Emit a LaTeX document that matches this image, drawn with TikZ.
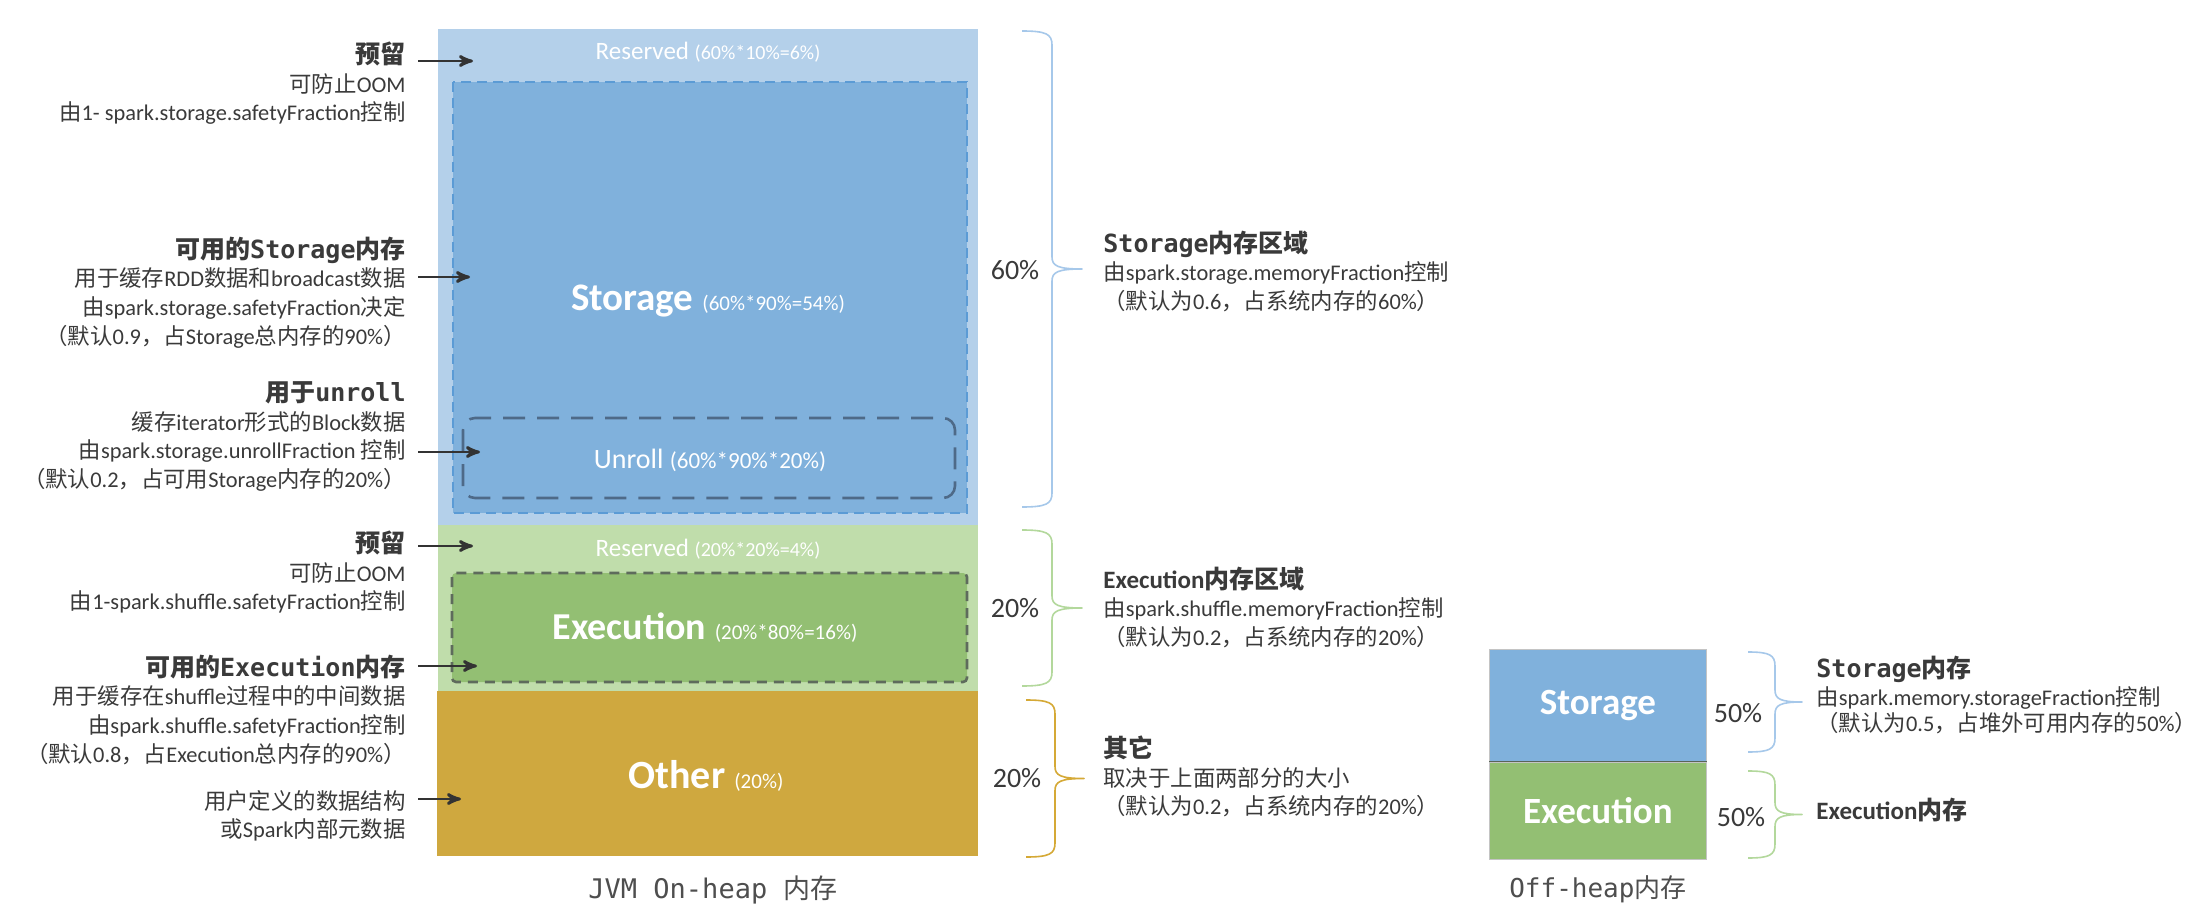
\documentclass[tikz,border=0pt]{standalone}
\usepackage{fontspec}
\setmainfont{Carlito}
\newfontfamily\cjkf{Noto Sans CJK SC}
\newfontfamily\carl{Carlito}
\newfontfamily\monof{DejaVu Sans Mono}
\usetikzlibrary{arrows, positioning}

% CJK characters in Noto Sans CJK, Latin in Carlito
\XeTeXinterchartokenstate=1
\newXeTeXintercharclass\cjkcls
\count255="3000 \loop \XeTeXcharclass\count255=\cjkcls \advance\count255 by 1 \ifnum\count255<"3040 \repeat
\count255="4E00 \loop \XeTeXcharclass\count255=\cjkcls \advance\count255 by 1 \ifnum\count255<"A000 \repeat
\count255="FF00 \loop \XeTeXcharclass\count255=\cjkcls \advance\count255 by 1 \ifnum\count255<"FFF0 \repeat
\XeTeXinterchartoks 0 \cjkcls = {\begingroup\cjkf}
\XeTeXinterchartoks 4095 \cjkcls = {\begingroup\cjkf}
\XeTeXinterchartoks \cjkcls 0 = {\endgroup}
\XeTeXinterchartoks \cjkcls 4095 = {\endgroup}

\definecolor{stLight}{HTML}{B4D0EA}
\definecolor{stFill}{HTML}{80B1DC}
\definecolor{stLine}{HTML}{5B9BD5}
\definecolor{unLine}{HTML}{4E6A88}
\definecolor{exLight}{HTML}{C0DDAB}
\definecolor{exFill}{HTML}{93BF73}
\definecolor{exLine}{HTML}{5E6B5C}
\definecolor{otFill}{HTML}{CFA83F}
\definecolor{txtGray}{HTML}{3A3A3A}
\definecolor{arrGray}{HTML}{333333}
\definecolor{boxGray}{HTML}{C4C4C4}
\definecolor{divGray}{HTML}{5A6458}
\definecolor{brBlue}{HTML}{A6C8EA}
\definecolor{brGreen}{HTML}{B3D89C}
\definecolor{brGold}{HTML}{D5A936}

\newcommand\hdf{\fontsize{12.5pt}{14.3pt}\selectfont\bfseries}

\begin{document}
\begin{tikzpicture}[x=0.5pt, y=-0.5pt, >=stealth',
    lbl/.style={inner sep=0pt, text=txtGray, font=\fontsize{11.2pt}{14.3pt}\selectfont},
    lft/.style={lbl, align=right, anchor=north east},
    rgt/.style={lbl, align=left, anchor=north west},
    blk/.style={text=white, inner sep=0pt},
    pct/.style={text=txtGray, inner sep=0pt, font=\carl\fontsize{14pt}{16pt}\selectfont},
    arr/.style={->, draw=arrGray, line width=1.4pt},
    brc/.style={line width=0.8pt, line join=round},
    offbox/.style={draw=boxGray, line width=0.4pt, minimum width=108.5pt, inner sep=0pt}]
    \useasboundingbox (0,0) rectangle (2208,915);
    \fill[white] (0,0) rectangle (2208,915);

    % JVM on-heap regions
    \fill[stLight] (438,29) rectangle (978,525);
    \fill[exLight] (438,525) rectangle (978,691);
    \fill[otFill] (437,691) rectangle (978,856);
    \draw[stLine, fill=stFill, line width=1.2pt, dash pattern=on 5pt off 3pt] (453,82) rectangle (967,513);
    \draw[unLine, line width=1.3pt, dash pattern=on 11pt off 6pt, rounded corners=6pt] (463,418) rectangle (955,498);
    \draw[exLine, fill=exFill, line width=1.3pt, dash pattern=on 5pt off 3.5pt, rounded corners=2pt] (452,573) rectangle (967,682);

    \node[blk] (resSt) at (708,52) {{\carl\fontsize{12.5pt}{14pt}\selectfont Reserved }{\carl\fontsize{10pt}{12pt}\selectfont (60\%*10\%=6\%)}};
    \node[blk] (stor) at (708,301) {{\carl\bfseries\fontsize{19.5pt}{22pt}\selectfont Storage }{\carl\fontsize{10.5pt}{12pt}\selectfont (60\%*90\%=54\%)}};
    \node[blk] (unrl) at (710,460) {{\carl\fontsize{14pt}{16pt}\selectfont Unroll }{\carl\fontsize{11.5pt}{13pt}\selectfont (60\%*90\%*20\%)}};
    \node[blk] (resEx) at (708,549) {{\carl\fontsize{12.5pt}{14pt}\selectfont Reserved }{\carl\fontsize{10pt}{12pt}\selectfont (20\%*20\%=4\%)}};
    \node[blk] (exec) at (705,628) {{\carl\bfseries\fontsize{19pt}{22pt}\selectfont Execution }{\carl\fontsize{10.5pt}{12pt}\selectfont (20\%*80\%=16\%)}};
    \node[blk] (other) at (706,776) {{\carl\bfseries\fontsize{20pt}{22pt}\selectfont Other }{\carl\fontsize{10.5pt}{12pt}\selectfont (20\%)}};
    \node[lbl, text=txtGray!90, font=\fontsize{13.5pt}{15pt}\selectfont] (jvm) at (713,890) {{\monof JVM On-heap }内存};

    % left notes
    \node[lft] (resS) at (406,41.5) {{\hdf 预留}\\可防止OOM\\由1- spark.storage.safetyFraction控制};
    \node[lft] (avS) at (406,236.5) {{\hdf 可用的{\monof Storage}内存}\\用于缓存RDD数据和broadcast数据\\由spark.storage.safetyFraction决定\\（默认0.9，占Storage总内存的90\%）};
    \node[lft] (unr) at (406,381.5) {{\hdf 用于{\monof unroll}}\\缓存iterator形式的Block数据\\由spark.storage.unrollFraction 控制\\（默认0.2，占可用Storage内存的20\%）};
    \node[lft] (resE) at (406,530.5) {{\hdf 预留}\\可防止OOM\\由1-spark.shuffle.safetyFraction控制};
    \node[lft] (avE) at (406,654.5) {{\hdf 可用的{\monof Execution}内存}\\用于缓存在shuffle过程中的中间数据\\由spark.shuffle.safetyFraction控制\\（默认0.8，占Execution总内存的90\%）};
    \node[lft] (oth) at (406,790) {用户定义的数据结构\\或Spark内部元数据};

    % arrows into the regions
    \coordinate (pRs) at (473,61);
    \coordinate (pAs) at (470,277);
    \coordinate (pUn) at (480,452);
    \coordinate (pRe) at (473,546);
    \coordinate (pAe) at (477,666);
    \coordinate (pOt) at (461,799);
    \draw[arr] ([xshift=6pt]resS.east |- pRs) -- (pRs);
    \draw[arr] ([xshift=6pt]avS.east |- pAs) -- (pAs);
    \draw[arr] ([xshift=6pt]unr.east |- pUn) -- (pUn);
    \draw[arr] ([xshift=6pt]resE.east |- pRe) -- (pRe);
    \draw[arr] ([xshift=6pt]avE.east |- pAe) -- (pAe);
    \draw[arr] ([xshift=6pt]oth.east |- pOt) -- (pOt);

    % braces
    \foreach \bx/\ya/\yb/\bd/\bc in {1022/31/507/30/brBlue, 1022/530/686/30/brGreen, 1026/700/857/29/brGold, 1748/652/752/27/brBlue, 1748/771/858/27/brGreen}{
        \pgfmathsetmacro\ym{(\ya+\yb)/2}
        \draw[brc, \bc] (\bx,\ya) .. controls ({\bx+0.8*\bd},\ya) and ({\bx+\bd},{\ya+3}) .. ({\bx+\bd},{\ya+14})
            -- ({\bx+\bd},{\ym-12}) .. controls ({\bx+\bd},{\ym-3}) and ({\bx+1.2*\bd},\ym) .. ({\bx+2*\bd},\ym)
            .. controls ({\bx+1.2*\bd},\ym) and ({\bx+\bd},{\ym+3}) .. ({\bx+\bd},{\ym+12})
            -- ({\bx+\bd},{\yb-14}) .. controls ({\bx+\bd},{\yb-3}) and ({\bx+0.8*\bd},\yb) .. (\bx,\yb);
    }
    \node[pct] (pS) at (1015,270) {60\%};
    \node[pct] (pE) at (1015,608) {20\%};
    \node[pct] (pO) at (1017,778) {20\%};

    % right notes
    \node[rgt] (rgnS) at (1103,230.5) {{\hdf {\monof Storage}内存区域}\\由spark.storage.memoryFraction控制\\（默认为0.6，占系统内存的60\%）};
    \node[rgt] (rgnE) at (1103,566.5) {{\hdf Execution内存区域}\\由spark.shuffle.memoryFraction控制\\（默认为0.2，占系统内存的20\%）};
    \node[rgt] (rgnO) at (1103,735.5) {{\hdf 其它}\\取决于上面两部分的大小\\（默认为0.2，占系统内存的20\%）};

    % off-heap
    \node[offbox, fill=stFill, minimum height=56pt, anchor=north west] (offS) at (1489,649) {\carl\bfseries\fontsize{18.5pt}{20pt}\selectfont\color{white}Storage};
    \node[offbox, fill=exFill, minimum height=48.5pt, below=0pt of offS] (offE) {\carl\bfseries\fontsize{18.5pt}{20pt}\selectfont\color{white}Execution};
    \draw[divGray, line width=0.6pt] (offS.south west) -- (offS.south east);
    \node[lbl, text=txtGray!90, font=\fontsize{13pt}{15pt}\selectfont, below=8pt of offE] (offL) {{\monof Off-heap}内存};
    \node[pct] (pOS) at (1738,713) {50\%};
    \node[pct] (pOE) at (1741,817) {50\%};
    \node[rgt] (offSd) at (1816,655.5) {{\hdf {\monof Storage}内存}\\由spark.memory.storageFraction控制\\[-1.5pt]（默认为0.5，占堆外可用内存的50\%）};
    \node[lbl, anchor=west] (offEd) at (1816,810) {\hdf Execution内存};
\end{tikzpicture}
\end{document}
